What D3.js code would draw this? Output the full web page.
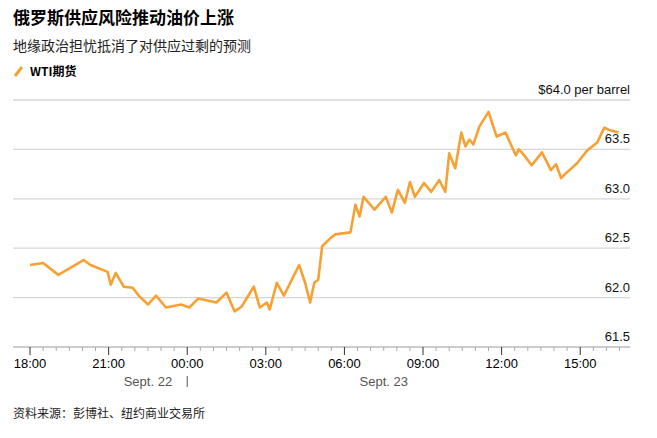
<!DOCTYPE html><html><head><meta charset="utf-8"><script src="https://cdn.jsdelivr.net/npm/d3@7"></script>
<style>body{margin:0;background:#fff;font-family:"Noto Sans CJK SC","Liberation Sans",sans-serif}</style></head><body><svg id="c" width="657" height="438"></svg><script>
const hours=[0,0.5,1.08,1.54,2.04,2.31,2.96,3.08,3.27,3.58,3.92,4.15,4.5,4.81,5.19,5.77,6.08,6.42,7.11,7.5,7.81,8.08,8.54,8.77,9.04,9.15,9.42,9.69,10.27,10.5,10.69,10.85,11.0,11.15,11.46,11.65,12.23,12.42,12.58,12.73,13.15,13.58,13.81,14.04,14.31,14.5,14.69,15.04,15.31,15.62,15.85,16.0,16.23,16.46,16.62,16.77,16.92,17.15,17.5,17.81,18.15,18.54,18.65,18.77,19.15,19.54,19.88,20.08,20.27,20.46,20.88,21.27,21.65,21.92,22.08,22.46];
const prices=[62.33,62.35,62.23,62.30,62.38,62.33,62.26,62.13,62.25,62.11,62.10,62.02,61.93,62.02,61.90,61.93,61.90,61.99,61.95,62.05,61.86,61.91,62.11,61.90,61.95,61.88,62.15,62.02,62.33,62.15,61.95,62.15,62.18,62.52,62.60,62.64,62.66,62.94,62.82,63.02,62.89,63.02,62.86,63.09,62.96,63.17,63.02,63.16,63.07,63.19,63.07,63.46,63.31,63.67,63.53,63.60,63.55,63.73,63.88,63.63,63.67,63.44,63.50,63.47,63.34,63.47,63.29,63.35,63.21,63.26,63.36,63.49,63.57,63.72,63.70,63.67];
const yTicks=[61.5,62.0,62.5,63.0,63.5,64.0];
const xTickLabels=["18:00","21:00","00:00","03:00","06:00","09:00","12:00","15:00"];
const svg=d3.select("#c");
const x=d3.scaleLinear().domain([-0.65,22.9]).range([13,630]);
const y=d3.scaleLinear().domain([61.5,64.0]).range([347,100]);
svg.append("text").attr("x",13).attr("y",24).attr("font-size",17).attr("font-weight","bold").attr("fill","#000").text("俄罗斯供应风险推动油价上涨");
svg.append("text").attr("x",13).attr("y",51).attr("font-size",14).attr("fill","#222").text("地缘政治担忧抵消了对供应过剩的预测");
svg.append("line").attr("x1",15).attr("y1",76).attr("x2",22).attr("y2",67).attr("stroke","#f7a134").attr("stroke-width",3);
svg.append("text").attr("x",30).attr("y",76).attr("font-size",12).attr("font-weight","bold").text("WTI期货");
yTicks.forEach(t=>{
 svg.append("line").attr("x1",13).attr("x2",630).attr("y1",y(t)).attr("y2",y(t)).attr("stroke",t==61.5?"#bbb":"#d6d6d6").attr("stroke-width",1.3);
 svg.append("text").attr("x",630).attr("y",y(t)-6).attr("text-anchor","end").attr("font-size",13).attr("font-family","Liberation Sans,sans-serif").attr("fill","#111").text(t==64?"$64.0 per barrel":t.toFixed(1));
});
for(let k=0;k<=46;k++){const t=k*0.5;if(x(t)>630)break;const major=k%6==0;
 svg.append("line").attr("x1",x(t)).attr("x2",x(t)).attr("y1",347).attr("y2",major?355:351).attr("stroke",major?"#333":"#aaa").attr("stroke-width",1);
 if(major)svg.append("text").attr("x",x(t)).attr("y",368).attr("text-anchor","middle").attr("font-size",13).attr("font-family","Liberation Sans,sans-serif").text(xTickLabels[k/6]);}
svg.append("text").attr("x",x(4.5)).attr("y",386).attr("text-anchor","middle").attr("font-size",13).attr("font-family","Liberation Sans,sans-serif").attr("fill","#555").text("Sept. 22");
svg.append("line").attr("x1",x(6)).attr("x2",x(6)).attr("y1",376).attr("y2",387).attr("stroke","#555");
svg.append("text").attr("x",x(13.5)).attr("y",386).attr("text-anchor","middle").attr("font-size",13).attr("font-family","Liberation Sans,sans-serif").attr("fill","#555").text("Sept. 23");
svg.append("path").datum(d3.zip(hours,prices)).attr("fill","none").attr("stroke","#f7a134").attr("stroke-width",2.6).attr("stroke-linejoin","round")
 .attr("d",d3.line().x(d=>x(d[0])).y(d=>y(d[1])));
svg.append("text").attr("x",13).attr("y",418).attr("font-size",12).attr("fill","#222").text("资料来源：彭博社、纽约商业交易所");
</script></body></html>
